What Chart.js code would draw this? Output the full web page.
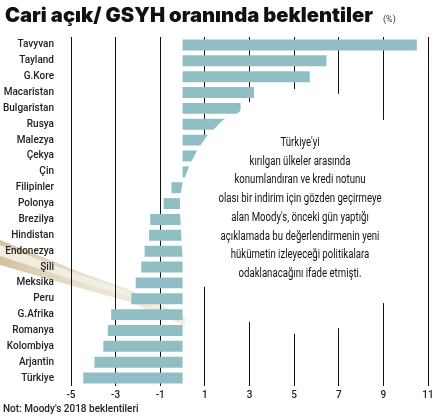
<!DOCTYPE html>
<html><head><meta charset="utf-8">
<script src="https://cdn.jsdelivr.net/npm/chart.js@4"></script>
<style>html,body{margin:0;padding:0;background:#fff;overflow:hidden}</style>
</head><body>
<canvas id="c" width="441" height="418"></canvas>
<script>
const categories = ["Tavyvan","Tayland","G.Kore","Macaristan","Bulgaristan","Rusya","Malezya","Çekya","Çin","Filipinler","Polonya","Brezilya","Hindistan","Endonezya","Şili","Meksika","Peru","G.Afrika","Romanya","Kolombiya","Arjantin","Türkiye"];
const values = [10.5,6.45,5.7,3.2,2.6,2.4,2.2,0.9,0.7,-0.5,-0.85,-1.45,-1.5,-1.7,-1.85,-2.1,-2.3,-3.2,-3.35,-3.55,-3.95,-4.45];
const tickValues = [-5,-3,-1,1,3,5,7,9,11];
const titleText = "Cari açık/ GSYH oranında beklentiler";
const unitText = "(%)";
const noteText = "Not: Moody's 2018 beklentileri";
const calloutLines = ["Türkiye'yi","kırılgan ülkeler arasında","konumlandıran ve kredi notunu","olası bir indirim için gözden geçirmeye","alan Moody's, önceki gün yaptığı","açıklamada bu değerlendirmenin yeni","hükümetin izleyeceği politikalara","odaklanacağını ifade etmişti."];

const overlayShape = [[252,100],[262,96],[295,89],[340,94],[362,104],[385,121],[405,125],[423,128],[423,296],[400,299],[385,302],[362,318],[340,328],[295,334],[270,330],[250,322],[228,305],[205,287],[192,280],[185,268],[182,250],[181,230],[180,212],[180,198],[182,186],[185,177],[190,164],[198,149],[207,136],[214,129],[223,120],[238,113],[246,105]];

const decor = {
  id:'decor',
  beforeDraw(chart){
    const ctx = chart.ctx;
    ctx.save();
    const g = ctx.createLinearGradient(0,0,185,0);
    g.addColorStop(0,'rgba(195,175,130,0.75)');
    g.addColorStop(0.5,'rgba(215,205,175,0.55)');
    g.addColorStop(1,'rgba(225,218,195,0.45)');
    ctx.fillStyle = g;
    ctx.beginPath();
    ctx.moveTo(0,240); ctx.lineTo(80,272); ctx.lineTo(130,290); ctx.lineTo(185,316);
    ctx.lineTo(185,326); ctx.lineTo(130,302); ctx.lineTo(80,288); ctx.lineTo(0,265);
    ctx.closePath(); ctx.fill();
    const g2 = ctx.createLinearGradient(0,0,185,0);
    g2.addColorStop(0,'rgba(248,245,235,0.85)');
    g2.addColorStop(1,'rgba(245,242,232,0.5)');
    ctx.fillStyle = g2;
    ctx.beginPath();
    ctx.moveTo(0,245); ctx.lineTo(80,275); ctx.lineTo(130,292); ctx.lineTo(185,318);
    ctx.lineTo(185,321); ctx.lineTo(130,297); ctx.lineTo(80,282); ctx.lineTo(0,256);
    ctx.closePath(); ctx.fill();
    ctx.restore();
  },
  afterDatasetsDraw(chart){
    const ctx = chart.ctx;
    ctx.save();
    ctx.fillStyle = '#fff';
    ctx.beginPath();
    overlayShape.forEach((p,i)=> i? ctx.lineTo(p[0],p[1]) : ctx.moveTo(p[0],p[1]));
    ctx.closePath(); ctx.fill();
    ctx.fillStyle = '#111';
    ctx.font = '12px Roboto, sans-serif';
    ctx.textAlign = 'center'; ctx.textBaseline = 'middle';
    const sx = 0.8;
    calloutLines.forEach((t,i)=>{
      ctx.save(); ctx.translate(300, 143 + i*18.7); ctx.scale(sx,1); ctx.fillText(t,0,0); ctx.restore();
    });
    ctx.restore();
  },
  afterDraw(chart){
    const ctx = chart.ctx;
    ctx.save();
    ctx.fillStyle = '#111';
    ctx.textBaseline = 'alphabetic'; ctx.textAlign = 'left';
    ctx.font = '900 20px Inter, Roboto, sans-serif';
    const w = ctx.measureText(titleText).width;
    const sx = 368 / w;
    ctx.save(); ctx.translate(5,22); ctx.scale(sx,1); ctx.fillText(titleText,0,0); ctx.restore();
    ctx.font = '9px Roboto, sans-serif';
    ctx.fillStyle = '#333';
    ctx.fillText(unitText, 383, 22);
    ctx.font = '500 10px Roboto, sans-serif';
    ctx.fillStyle = '#222';
    ctx.textBaseline = 'middle';
    ctx.fillText(noteText, 3, 409);
    ctx.restore();
  }
};

new Chart(document.getElementById('c'), {
  type:'bar',
  data:{labels:categories, datasets:[{data:values, backgroundColor:'#8fbfc4', borderWidth:0, barPercentage:0.69, categoryPercentage:1}]},
  options:{
    indexAxis:'y', responsive:false, animation:false,
    layout:{padding:{top:37,right:13,left:0,bottom:0}},
    plugins:{legend:{display:false}, tooltip:{enabled:false}, title:{display:false}},
    scales:{
      x:{min:-5,max:11,
        afterBuildTicks(s){ s.ticks = tickValues.map(v=>({value:v})); },
        afterFit(s){ s.height = 32; },
        grid:{color:'#111',lineWidth:1,drawTicks:false},
        border:{display:false},
        ticks:{padding:3,color:'#222',font:{family:'Roboto',size:10,weight:'500'}}
      },
      y:{
        afterFit(s){ s.width = 71; },
        grid:{display:false,drawTicks:false},
        border:{display:false},
        ticks:{padding:17,color:'#222',font:{family:'Roboto',size:10,weight:'500'}}
      }
    }
  },
  plugins:[decor]
});
</script>
</body></html>
